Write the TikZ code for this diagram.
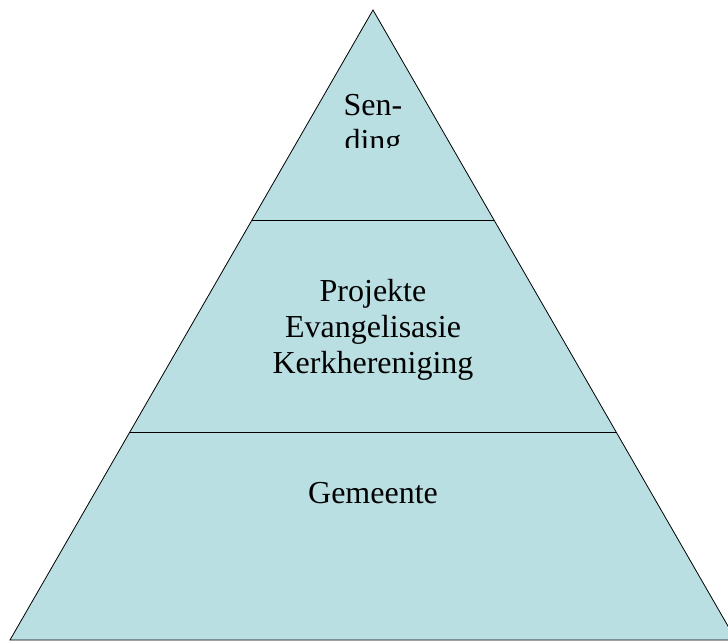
\documentclass[tikz,border=0pt]{standalone}
\usepackage{fontspec}
\setmainfont{Liberation Serif}
\usepackage{tikz}
\definecolor{pyrfill}{RGB}{185,223,227}
\tikzset{
  lyr/.style={font=\fontsize{32}{35.7}\selectfont,align=center,anchor=base,inner sep=0pt}
}

\begin{document}
\begin{tikzpicture}[x=1pt,y=-1pt]
\useasboundingbox (0,0) rectangle (728,642);
\filldraw[fill=pyrfill,draw=black,line width=0.8pt] (373,10)--(736,640)--(10,640)-- cycle;
\draw[line width=0.8pt] (252,220)--(494,220);
\draw[line width=0.8pt] (130,432)--(616,432);
% top layer text is cut off at the bottom
\begin{scope}
\clip (280,40) rectangle (470,147);
\path (373,151) node[lyr] (sending) {Sen-\\ding};
\end{scope}
\path (373,373) node[lyr] (projekte) {Projekte\\Evangelisasie\\Kerkhereniging};
\path (373,503) node[lyr] (gemeente) {Gemeente};
\end{tikzpicture}
\end{document}
